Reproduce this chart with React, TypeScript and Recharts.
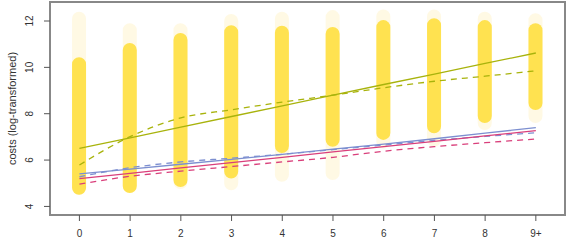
import {
  ComposedChart,
  Bar,
  Line,
  XAxis,
  YAxis,
  ReferenceArea,
} from 'recharts';

// x positions (years) and their labels
const xCats = [0, 1, 2, 3, 4, 5, 6, 7, 8, 9];
const xTickLabels = ['0', '1', '2', '3', '4', '5', '6', '7', '8', '9+'];
const yTicks = [4, 6, 8, 10, 12];

// jittered cloud of observations per column: dense core and faint outliers
const coreLow = [4.5, 4.58, 4.84, 5.2, 6.3, 6.57, 6.87, 7.16, 7.6, 8.16];
const coreHigh = [10.44, 11.05, 11.48, 11.82, 11.8, 11.74, 12.04, 12.12, 12.04, 11.9];
const outerLow = [4.5, 4.58, 4.75, 4.7, 5.06, 5.14, 6.5, 6.57, 7.3, 7.6];
const outerHigh = [12.4, 11.9, 11.9, 12.3, 12.4, 12.47, 12.5, 12.5, 12.4, 12.34];

// fitted curves
const greenSolid = [6.5, 6.96, 7.42, 7.88, 8.34, 8.8, 9.26, 9.71, 10.17, 10.62];
const greenDashed = [5.79, 7.01, 7.82, 8.17, 8.5, 8.8, 9.12, 9.4, 9.62, 9.85];
const blueSolid = [5.4, 5.61, 5.82, 6.03, 6.25, 6.47, 6.69, 6.92, 7.16, 7.4];
const blueDashed = [5.28, 5.67, 5.92, 6.08, 6.25, 6.45, 6.65, 6.85, 7.02, 7.18];
const pinkSolid = [5.2, 5.43, 5.66, 5.89, 6.12, 6.35, 6.58, 6.81, 7.04, 7.27];
const pinkDashed = [4.96, 5.3, 5.52, 5.72, 5.92, 6.12, 6.38, 6.58, 6.75, 6.91];

const X_MIN = -0.58;
const X_MAX = 9.575;
const Y_MIN = 3.63;
const Y_MAX = 12.82;

const GREEN = '#a8b30c';
const BLUE = '#7d8fd0';
const PINK = '#d93f7b';
const FRAME = '#888';

const data = xCats.map((x, i) => ({
  x,
  core: [coreLow[i], coreHigh[i]],
  halo: [outerLow[i], outerHigh[i]],
  greenSolid: greenSolid[i],
  greenDashed: greenDashed[i],
  blueSolid: blueSolid[i],
  blueDashed: blueDashed[i],
  pinkSolid: pinkSolid[i],
  pinkDashed: pinkDashed[i],
}));

const FONT = '"Liberation Sans", Arial, sans-serif';

function YTick({ y, payload }: any) {
  const cx = 33;
  return (
    <text
      x={cx}
      y={y}
      transform={`rotate(-90, ${cx}, ${y})`}
      textAnchor="middle"
      fontSize={10}
      fontFamily={FONT}
      fill="#333"
    >
      {payload.value}
    </text>
  );
}

function YTitle({ viewBox }: any) {
  const cy = viewBox ? viewBox.y + viewBox.height / 2 : 108;
  const cx = 16;
  return (
    <text
      x={cx}
      y={cy}
      transform={`rotate(-90, ${cx}, ${cy})`}
      textAnchor="middle"
      fontSize={11}
      fontFamily={FONT}
      fill="#333"
    >
      costs (log-transformed)
    </text>
  );
}

export default function App() {
  return (
    <div style={{ width: 567, height: 240, background: '#fff' }}>
      <style>{'body{margin:0}'}</style>
      <ComposedChart
        width={567}
        height={240}
        data={data}
        margin={{ top: 2, right: 2, left: 0, bottom: 0 }}
      >
        <XAxis
          xAxisId="x"
          dataKey="x"
          type="number"
          domain={[X_MIN, X_MAX]}
          allowDataOverflow
          ticks={xCats}
          interval={0}
          tickFormatter={(v: number) => xTickLabels[v] ?? String(v)}
          axisLine={false}
          tickLine={{ stroke: '#555' }}
          tickSize={6}
          tickMargin={9}
          height={25}
          tick={{ fill: '#333', fontSize: 10, fontFamily: FONT }}
        />
        {/* second x axis so the faint halo can sit behind the core */}
        <XAxis
          xAxisId="h"
          dataKey="x"
          type="number"
          orientation="top"
          domain={[X_MIN, X_MAX]}
          allowDataOverflow
          height={0}
          tick={false}
          tickLine={false}
          axisLine={false}
        />
        <YAxis
          type="number"
          domain={[Y_MIN, Y_MAX]}
          allowDataOverflow
          ticks={yTicks}
          interval={0}
          width={50}
          axisLine={false}
          tickLine={{ stroke: '#555' }}
          tickSize={6}
          tick={<YTick />}
          label={<YTitle />}
        />
        <Bar
          xAxisId="h"
          dataKey="halo"
          barSize={14}
          radius={7}
          fill="#ffe27a"
          fillOpacity={0.2}
          isAnimationActive={false}
        />
        <Bar
          xAxisId="x"
          dataKey="core"
          barSize={14}
          radius={7}
          fill="#ffe250"
          isAnimationActive={false}
        />
        <Line xAxisId="x" dataKey="greenSolid" stroke={GREEN} strokeWidth={1.3} dot={false} isAnimationActive={false} />
        <Line xAxisId="x" type="monotone" dataKey="greenDashed" stroke={GREEN} strokeWidth={1.3} strokeDasharray="6 5" dot={false} isAnimationActive={false} />
        <Line xAxisId="x" dataKey="blueSolid" stroke={BLUE} strokeWidth={1.3} dot={false} isAnimationActive={false} />
        <Line xAxisId="x" type="monotone" dataKey="blueDashed" stroke={BLUE} strokeWidth={1.3} strokeDasharray="6 5" dot={false} isAnimationActive={false} />
        <Line xAxisId="x" dataKey="pinkSolid" stroke={PINK} strokeWidth={1.3} dot={false} isAnimationActive={false} />
        <Line xAxisId="x" type="monotone" dataKey="pinkDashed" stroke={PINK} strokeWidth={1.3} strokeDasharray="6 5" dot={false} isAnimationActive={false} />
        {/* plot frame */}
        <ReferenceArea
          xAxisId="x"
          x1={X_MIN}
          x2={X_MAX}
          y1={Y_MIN}
          y2={Y_MAX}
          ifOverflow="visible"
          fill="none"
          stroke={FRAME}
          strokeWidth={2}
        />
      </ComposedChart>
    </div>
  );
}
